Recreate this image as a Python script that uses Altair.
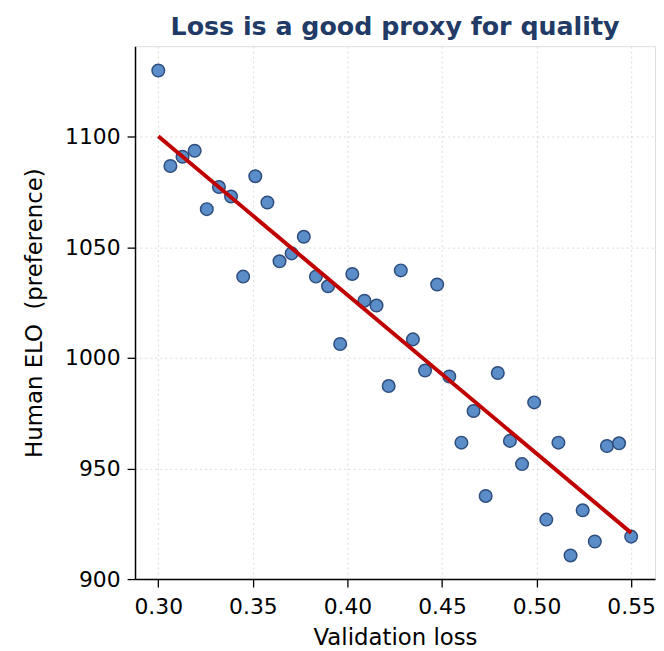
import altair as alt
import pandas as pd

loss = [0.30 + i * 0.25 / 39 for i in range(40)]
elo = [1130.0, 1086.8, 1091.0, 1093.7, 1067.3, 1077.3, 1073.0, 1036.8, 1082.2, 1070.3,
       1043.7, 1047.3, 1054.8, 1036.8, 1032.4, 1006.3, 1038.0, 1025.9, 1023.7, 987.3,
       1039.6, 1008.4, 994.3, 1033.2, 991.6, 961.7, 976.0, 937.6, 993.2, 962.5,
       952.0, 979.9, 926.9, 961.7, 910.7, 931.1, 917.0, 960.2, 961.4, 919.2]
x_ticks = [0.30, 0.35, 0.40, 0.45, 0.50, 0.55]
y_ticks = [900, 950, 1000, 1050, 1100]

df = pd.DataFrame({"loss": loss, "elo": elo})

xs = alt.Scale(domain=[0.2877, 0.5626], nice=False, zero=False)
ys = alt.Scale(domain=[900, 1141], nice=False, zero=False)

common = dict(labelFontSize=22, titleFontSize=23, labelColor="black",
              titleColor="black", titleFontWeight="normal", tickColor="black",
              domainColor="black", tickSize=8, tickWidth=1.3, domainWidth=1.5,
              gridDash=[2, 3], gridColor="#dcdcdc", gridWidth=1,
              labelFont="DejaVu Sans", titleFont="DejaVu Sans")

x_axis = alt.Axis(title="Validation loss", values=x_ticks, format=".2f",
                  labelPadding=10, titlePadding=9, **common)
y_axis = alt.Axis(title="Human ELO \u00a0(preference)", values=y_ticks, format="d",
                  labelPadding=7, titlePadding=18, **common)

base = alt.Chart(df)

points = base.mark_point(filled=True, size=160, fill="#5b8ec8", stroke="#2e4d7e",
                         strokeWidth=1.5, opacity=1).encode(
    x=alt.X("loss:Q", scale=xs, axis=x_axis),
    y=alt.Y("elo:Q", scale=ys, axis=y_axis),
)

line = base.transform_regression("loss", "elo").mark_line(
    color="#c00000", strokeWidth=4).encode(
    x=alt.X("loss:Q", scale=xs),
    y=alt.Y("elo:Q", scale=ys),
)

chart = alt.layer(points, line).properties(
    width=524, height=537,
    title=alt.TitleParams("Loss is a good proxy for quality", fontSize=25.5,
                          fontWeight="bold", color="#213a66", font="DejaVu Sans",
                          anchor="middle", offset=6),
).configure_view(stroke=None).configure(
    background="white", padding={"left": 16, "top": 4, "right": 0, "bottom": 0})

chart.save("out.html", embed_options={"renderer": "svg", "actions": False})
